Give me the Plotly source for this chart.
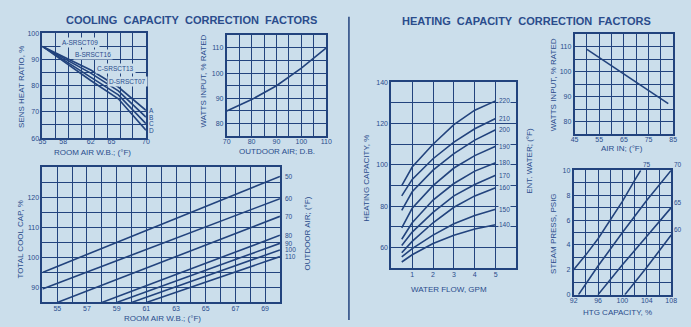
import plotly.graph_objects as go

BG = "#cbdeeb"
INK = "#22437d"
TXT = "#2a4c8c"
FONT = "Liberation Sans"
W, H = 691, 327

# ---------- Panel 1: sensible heat ratio ----------
shr_x = [55, 58, 62, 66, 70]
shr_A = [95, 91.2, 86.0, 79.5, 70.6]
shr_B = [95, 90.6, 84.8, 78.0, 68.0]
shr_C = [95, 90.0, 83.5, 76.5, 65.5]
shr_D = [95, 89.4, 82.0, 75.0, 63.0]
shr_series = ["A", "B", "C", "D"]
shr_models = ["A-SRSCT09", "B-SRSCT16", "C-SRSCT13", "D-SRSCT07"]
shr_xticks = [55, 58, 62, 65, 70]
shr_yticks = [60, 70, 80, 90, 100]

# ---------- Panel 2: cooling watts input ----------
cw_x = [70, 80, 90, 100, 110]
cw_y = [85, 89.5, 95, 102, 110]
cw_xticks = [70, 80, 90, 100, 110]
cw_yticks = [80, 90, 100, 110]

# ---------- Panel 3: total cooling capacity ----------
tcc_oat = [50, 60, 70, 80, 90, 100, 110]
tcc_x0 = [54, 54, 55, 58, 59, 60, 61]
tcc_y0 = [95, 89.5, 85, 85, 85, 85, 85]
tcc_x1 = [70, 70, 70, 70, 70, 70, 70]
tcc_y1 = [127, 119.6, 113.7, 107.4, 104.7, 102.5, 100.3]
tcc_xticks = [55, 57, 59, 61, 63, 65, 67, 69]
tcc_yticks = [90, 100, 110, 120]

# ---------- Panel 4: heating capacity ----------
hc_flow = [0.5, 1, 2, 3, 4, 5]
hc_ewt = [220, 210, 200, 190, 180, 170, 160, 150, 140]
hc_vals = [
    [90.0, 99.0, 110.0, 119.5, 126.5, 131.0],
    [85.0, 93.0, 103.0, 111.0, 117.5, 122.5],
    [78.0, 87.0, 97.5, 105.5, 112.0, 117.0],
    [69.5, 79.0, 90.0, 98.5, 104.5, 109.0],
    [64.0, 72.0, 83.0, 91.0, 97.0, 101.0],
    [61.0, 67.5, 77.0, 85.0, 90.5, 95.0],
    [57.5, 63.0, 72.0, 79.5, 85.0, 89.0],
    [55.5, 59.5, 66.0, 71.5, 75.5, 78.5],
    [53.0, 56.5, 62.0, 66.0, 69.0, 71.0],
]
hc_xticks = [1, 2, 3, 4, 5]
hc_yticks = [60, 80, 100, 120, 140]

# ---------- Panel 5: heating watts input ----------
hw_x = [50, 83]
hw_y = [109, 87.2]
hw_xticks = [45, 55, 65, 75, 85]
hw_yticks = [80, 90, 100, 110]

# ---------- Panel 6: steam pressure ----------
st_labels = ["75", "70", "65", "60"]
st_x = [
    [92, 94, 96, 98, 100, 102, 103],
    [92.8, 96, 100, 104, 108],
    [96, 100, 104, 108],
    [100.4, 104, 108],
]
st_y = [
    [2, 3.2, 4.5, 6, 7.5, 9.2, 10],
    [0, 2.3, 5.0, 7.6, 10],
    [0, 2.4, 4.7, 7.0],
    [0, 2.2, 4.8],
]
st_xticks = [92, 96, 100, 104, 108]
st_yticks = [0, 2, 4, 6, 8, 10]


def px_dom(a, b):
    return [a / W, b / W]


def py_dom(top, bottom):
    return [1 - bottom / H, 1 - top / H]


def frange(a, b, step):
    out = []
    v = a
    while v <= b + 1e-9:
        out.append(round(v, 4))
        v += step
    return out


fig = go.Figure()
LW = 1.6


def line(x, y, n):
    fig.add_trace(go.Scatter(x=x, y=y, mode="lines", xaxis="x" + n, yaxis="y" + n,
                             line=dict(color=INK, width=LW),
                             showlegend=False, hoverinfo="skip"))


for ys in [shr_A, shr_B, shr_C, shr_D]:
    line(shr_x, ys, "")
line(cw_x, cw_y, "2")
for i in range(len(tcc_oat)):
    line([tcc_x0[i], tcc_x1[i]], [tcc_y0[i], tcc_y1[i]], "3")
for ys in hc_vals:
    line(hc_flow, ys, "4")
line(hw_x, hw_y, "5")
for xs, ys in zip(st_x, st_y):
    line(xs, ys, "6")
# invisible trace carrying panel-1 x tick labels on an overlay axis
fig.add_trace(go.Scatter(x=shr_x, y=shr_A, mode="lines", xaxis="x7", yaxis="y",
                         line=dict(color="rgba(0,0,0,0)"), showlegend=False,
                         hoverinfo="skip"))

tickfont = dict(family=FONT, size=7, color=TXT)


def axis(domain, anchor, rng, labels, grid, is_x):
    text = []
    for g in grid:
        hit = [l for l in labels if abs(l - g) < 1e-6]
        text.append(str(hit[0]) if hit else "")
    d = dict(domain=domain, anchor=anchor, range=rng, tickmode="array",
             tickvals=grid, ticktext=text, tickfont=tickfont,
             showgrid=True, gridcolor=INK, gridwidth=1.3,
             showline=True, linecolor=INK, linewidth=1.8, mirror=True,
             ticks="", zeroline=False, fixedrange=True)
    if is_x:
        d["ticklabelstandoff"] = -2
    return d


layout = dict(
    width=W, height=H, margin=dict(l=0, r=0, t=0, b=0),
    paper_bgcolor=BG, plot_bgcolor=BG, showlegend=False,
    xaxis=axis(px_dom(39, 144), "y", [55, 70], [], frange(55, 70, 15 / 8), True),
    yaxis=axis(py_dom(30, 137), "x", [60, 100], shr_yticks, frange(60, 100, 5), False),
    xaxis2=axis(px_dom(226, 327), "y2", [70, 110], cw_xticks, frange(70, 110, 5), True),
    yaxis2=axis(py_dom(32, 135), "x2", [75, 115], cw_yticks, frange(75, 115, 5), False),
    xaxis3=axis(px_dom(39, 280), "y3", [54, 70], tcc_xticks, frange(54, 70, 1), True),
    yaxis3=axis(py_dom(167, 305), "x3", [85, 130], tcc_yticks, frange(85, 130, 5), False),
    xaxis4=axis(px_dom(393, 520), "y4", [0, 6], hc_xticks, frange(0, 6, 1), True),
    yaxis4=axis(py_dom(80, 270), "x4", [50, 140], hc_yticks, frange(50, 140, 10), False),
    xaxis5=axis(px_dom(579, 679), "y5", [45, 85], hw_xticks, frange(45, 85, 5), True),
    yaxis5=axis(py_dom(31, 133), "x5", [75, 115], hw_yticks, frange(75, 115, 5), False),
    xaxis6=axis(px_dom(578, 677), "y6", [92, 108], st_xticks, frange(92, 108, 2), True),
    yaxis6=axis(py_dom(170, 297), "x6", [0, 10], st_yticks, frange(0, 10, 1), False),
    xaxis7=dict(domain=px_dom(39, 144), anchor="y", overlaying="x", side="bottom",
                range=[55, 70], tickmode="array", tickvals=shr_xticks,
                ticktext=[str(t) for t in shr_xticks], tickfont=tickfont,
                showgrid=False, showline=False, zeroline=False, ticks="",
                ticklabelstandoff=-2, fixedrange=True),
)
fig.update_layout(**layout)

ann = []
NB = "\u00a0\u00a0"


def ptext(text, x, y, size=8, angle=0, bold=False):
    ann.append(dict(text=("<b>%s</b>" % text) if bold else text,
                    x=x / W, y=1 - y / H, xref="paper", yref="paper",
                    showarrow=False, textangle=angle, xanchor="center",
                    yanchor="middle", font=dict(family=FONT, size=size, color=TXT)))


# titles
ptext(NB.join(["COOLING", "CAPACITY", "CORRECTION", "FACTORS"]), 190, 16, size=11, bold=True)
ptext(NB.join(["HEATING", "CAPACITY", "CORRECTION", "FACTORS"]), 530, 17, size=11, bold=True)

# axis titles
ptext("SENS HEAT RATIO, %", 17, 85, angle=-90)
ptext("ROOM AIR W.B.; (°F)", 90, 152)
ptext("WATTS INPUT, % RATED", 202, 79, angle=-90)
ptext("OUTDOOR AIR; D.B.", 277, 151)
ptext("TOTAL COOL CAP, %", 17, 240, angle=-90)
ptext("ROOM AIR W.B.; (°F)", 161, 321)
ptext("OUTDOOR AIR; (°F)", 308, 235, angle=-90)
ptext("HEATING CAPACITY, %", 368, 178, angle=-90)
ptext("WATER FLOW, GPM", 452, 292)
ptext("ENT. WATER; (°F)", 533, 160, angle=-90)
ptext("WATTS INPUT, % RATED", 557, 82, angle=-90)
ptext("AIR IN; (°F)", 627, 148)
ptext("STEAM PRESS, PSIG", 558, 235, angle=-90)
ptext("HTG CAPACITY, %", 623, 315)

small = dict(family=FONT, size=6.5, color=TXT)

# panel 1 model boxes and end letters
box_pos = [(57, 39), (70, 52), (92, 66), (105, 79)]
for name, (bx, by) in zip(shr_models, box_pos):
    ann.append(dict(text=name, x=bx / W, y=1 - by / H, xref="paper", yref="paper",
                    xanchor="left", yanchor="middle", showarrow=False, font=small,
                    bgcolor=BG, borderpad=1))
shr_ends = [shr_A[-1], shr_B[-1], shr_C[-1], shr_D[-1]]
for s, yv in zip(shr_series, shr_ends):
    ann.append(dict(text=s, x=1.0, y=yv, xref="x domain", yref="y", xanchor="left",
                    yanchor="middle", showarrow=False, font=small, xshift=1))

# panel 3 outdoor labels
for t, yv in zip(tcc_oat, tcc_y1):
    ann.append(dict(text=str(t), x=1.0, y=yv, xref="x3 domain", yref="y3", xanchor="left",
                    yanchor="middle", showarrow=False, font=small, xshift=3))

# panel 4 entering water labels
for t, ys in zip(hc_ewt, hc_vals):
    ann.append(dict(text=str(t), x=hc_flow[-1], y=ys[-1], xref="x4", yref="y4",
                    xanchor="left", yanchor="middle", showarrow=False, font=small,
                    xshift=2, bgcolor=BG, borderpad=0))

# panel 6 labels
ann.append(dict(text=st_labels[0], x=st_x[0][-1], y=st_y[0][-1], xref="x6", yref="y6",
                xanchor="left", yanchor="bottom", showarrow=False, font=small))
for lab, xs, ys in zip(st_labels[1:], st_x[1:], st_y[1:]):
    ann.append(dict(text=lab, x=xs[-1], y=ys[-1], xref="x6", yref="y6", xanchor="left",
                    yanchor="bottom", showarrow=False, font=small, xshift=1))

fig.update_layout(annotations=ann)

# separator
fig.add_shape(type="line", xref="paper", yref="paper", x0=350 / W, x1=350 / W,
              y0=1 - 323 / H, y1=1 - 13 / H, line=dict(color=INK, width=1.5))

fig.write_html("out.html", config={"displayModeBar": False},
               post_script="document.body.style.margin='0px';")
